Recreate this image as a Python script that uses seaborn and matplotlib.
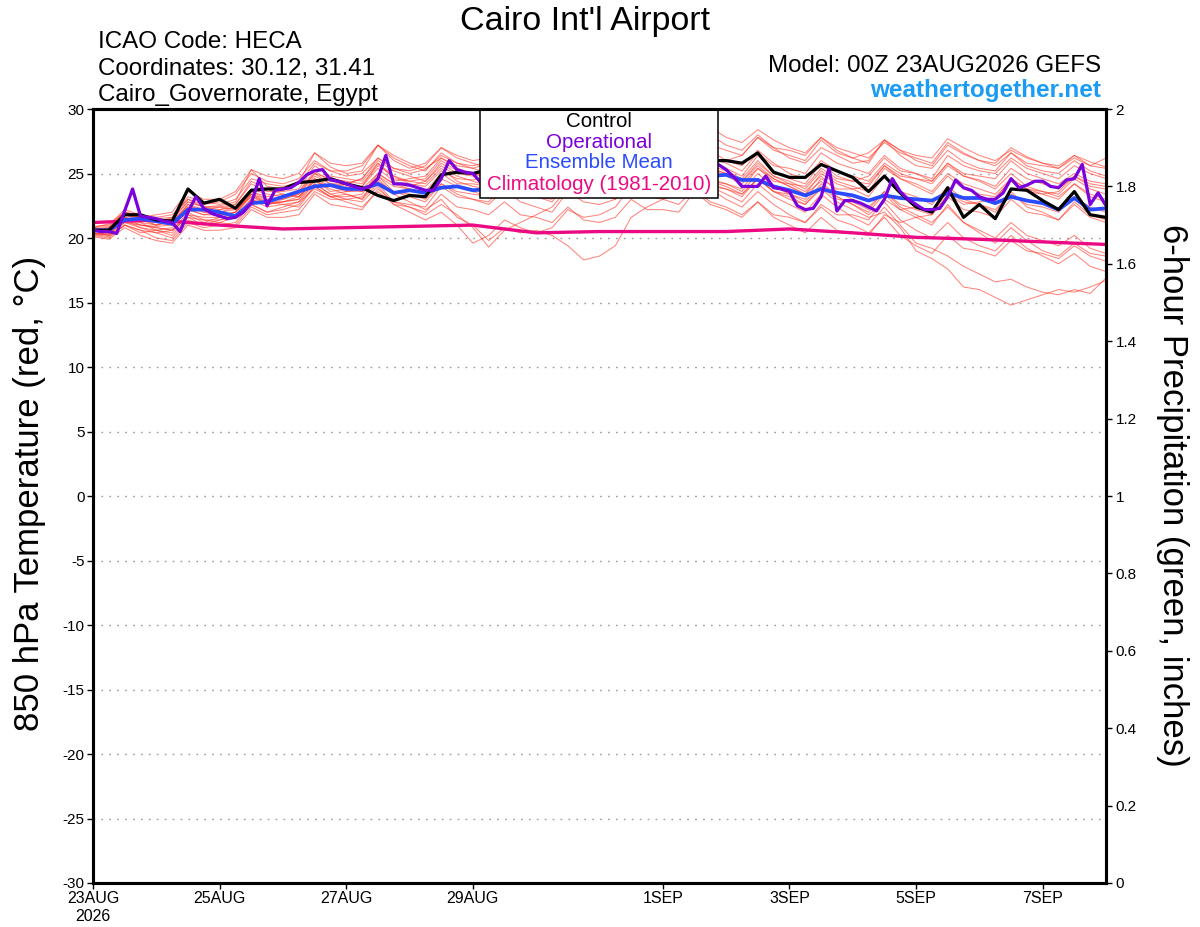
import numpy as np
import pandas as pd
import matplotlib
matplotlib.use("Agg")
import matplotlib.pyplot as plt
import matplotlib.dates as mdates
from matplotlib.patches import Rectangle
import seaborn as sns

# ---------------- data ----------------
start = pd.Timestamp("2026-08-23 00:00")
times_6h = pd.date_range(start, periods=65, freq="6h")
times_3h = pd.date_range(start, periods=129, freq="3h")
times_day = pd.date_range(start, periods=17, freq="1D")

control = [20.6, 20.6, 21.8, 21.8, 21.4, 21.3, 23.8, 22.7, 23.0, 22.3, 23.7, 23.8, 23.8,
           24.3, 24.4, 24.6, 24.2, 23.9, 23.3, 22.9, 23.3, 23.2, 24.9, 25.1, 25.0,
           25.3, 25.6, 25.9, 25.5, 25.8, 26.2, 26.0, 25.7, 26.3, 26.5, 26.2, 25.9, 26.1, 26.4, 26.0,
           26.0, 25.8, 26.6, 25.1, 24.7, 24.7, 25.7, 25.2, 24.7, 23.6, 24.8, 23.5, 22.4,
           22.0, 23.9, 21.6, 22.6, 21.5, 23.8, 23.7, 22.9, 22.2, 23.6, 21.8, 21.6]

ens_mean = [20.6, 20.6, 21.4, 21.5, 21.3, 21.1, 22.2, 22.2, 22.0, 21.7, 22.7, 22.8, 23.2,
            23.6, 24.0, 24.1, 23.8, 23.8, 24.2, 23.5, 23.7, 23.5, 23.9, 24.0, 23.7,
            23.8, 24.1, 23.9, 24.0, 24.3, 24.2, 24.4, 24.6, 24.4, 24.7, 24.8, 24.6, 24.8, 25.0, 24.8,
            24.9, 24.5, 24.5, 24.0, 23.7, 23.3, 23.8, 23.5, 23.3, 22.9, 23.3, 23.1, 23.0,
            22.9, 23.5, 23.1, 23.1, 22.7, 23.2, 22.9, 22.7, 22.2, 23.1, 22.2, 22.3]

operational = [20.6, 20.5, 20.5, 20.35, 22.1, 23.8, 21.7, 21.6, 21.5, 21.3, 21.2, 20.5, 22.0,
               23.2, 22.3, 21.9, 21.7, 21.5, 21.6, 22.0, 22.7, 24.6, 22.5, 23.7, 23.8, 23.9,
               24.3, 24.9, 25.2, 25.3, 24.5, 24.4, 24.2, 24.0, 23.8, 24.0, 24.6, 26.4, 24.2,
               24.2, 24.1, 23.9, 23.7, 23.7, 24.6, 26.0, 25.3, 25.1, 25.0,
               24.3, 24.5, 25.2, 25.5, 26.5, 25.4, 25.0, 24.8, 24.6, 24.8, 25.3, 25.6, 26.8,
               25.6, 25.3, 25.0, 24.9, 25.2, 25.6, 25.9, 27.0, 25.9, 25.6, 25.4, 25.2, 25.4,
               25.8, 26.0, 26.5, 26.0,
               25.7, 25.3, 24.7, 24.0, 24.0, 24.0, 24.8, 23.9, 23.8, 23.6, 22.5, 22.2, 22.3,
               23.2, 25.4, 22.1, 22.9, 22.9, 22.7, 22.4, 22.1, 23.0, 24.6, 23.6, 23.0, 22.6,
               22.2, 22.2, 22.3, 23.2, 24.5, 23.9, 23.7, 23.2, 23.0, 23.0, 23.5, 24.6, 23.9,
               24.1, 24.4, 24.4, 24.0, 23.9, 24.5, 24.6, 25.7, 22.6, 23.5, 22.5]

climatology = [21.2, 21.4, 21.0, 20.7, 20.8, 20.9, 21.0, 20.4, 20.5, 20.5, 20.5, 20.7,
               20.4, 20.05, 19.9, 19.7, 19.5]

members = [
    [20.8, 20.9, 22.0, 21.8, 21.5, 21.6, 23.2, 22.8, 22.6, 23.0, 24.6, 24.2, 24.0, 24.3, 26.6, 25.5,
     25.0, 25.2, 27.2, 26.0, 25.4, 25.8, 27.0, 26.4, 26.0, 26.2, 27.6, 27.0, 26.5, 26.8, 28.2, 27.6,
     27.0, 27.3, 28.5, 27.9, 27.3, 27.0, 28.8, 28.0, 27.2, 26.8, 28.0, 27.0, 26.2, 25.8, 27.0, 26.4,
     25.8, 26.0, 27.6, 26.8, 26.0, 25.6, 27.2, 26.5, 26.0, 25.8, 27.0, 26.3, 25.8, 25.6, 26.4, 25.9, 25.5],
    [20.5, 20.7, 21.6, 21.4, 21.2, 21.5, 22.8, 22.4, 22.5, 22.8, 25.3, 24.0, 23.8, 24.2, 25.8, 25.2,
     24.8, 25.0, 26.2, 25.4, 25.0, 25.3, 26.4, 25.8, 25.6, 25.9, 27.4, 26.8, 26.4, 26.6, 28.0, 27.5,
     27.4, 27.8, 29.0, 28.4, 28.0, 28.2, 29.3, 28.6, 27.8, 27.4, 28.4, 27.6, 27.0, 26.6, 27.8, 26.8,
     26.2, 25.8, 27.6, 26.4, 25.6, 25.4, 26.8, 25.9, 25.4, 25.2, 26.6, 25.6, 25.2, 25.0, 26.0, 25.2, 24.8],
    [20.6, 20.4, 21.8, 21.5, 21.0, 21.2, 22.6, 22.2, 22.0, 22.4, 23.8, 23.4, 23.2, 23.6, 25.0, 24.6,
     24.4, 24.2, 25.6, 24.8, 24.2, 24.0, 25.2, 24.6, 24.5, 24.8, 26.0, 25.4, 25.2, 25.4, 26.8, 26.0,
     25.8, 26.2, 27.4, 26.6, 26.4, 26.0, 27.6, 26.8, 26.0, 25.6, 26.8, 25.8, 25.0, 24.6, 26.0, 25.2,
     24.8, 24.4, 25.8, 25.0, 24.6, 24.2, 25.6, 24.8, 24.5, 24.0, 25.4, 24.6, 24.2, 23.8, 24.8, 24.2, 24.0],
    [20.4, 20.2, 21.2, 21.0, 20.8, 20.6, 22.0, 21.4, 21.2, 21.6, 23.0, 22.6, 22.8, 23.2, 24.4, 24.0,
     23.6, 23.8, 25.0, 24.2, 23.8, 23.4, 24.6, 24.0, 23.6, 23.2, 24.4, 23.6, 23.2, 23.0, 24.6, 23.8,
     23.6, 23.8, 25.2, 24.6, 24.4, 24.0, 25.4, 24.4, 24.0, 23.4, 24.6, 23.6, 23.0, 22.6, 23.8, 22.8,
     22.2, 21.6, 22.0, 20.8, 19.0, 18.4, 17.6, 16.2, 16.0, 15.4, 14.8, 15.2, 15.6, 16.0, 15.8, 16.2, 16.7],
    [20.2, 20.0, 21.0, 20.6, 20.0, 19.8, 21.2, 20.8, 21.0, 21.2, 22.6, 22.0, 22.2, 22.6, 24.0, 23.2,
     23.4, 23.0, 24.8, 23.6, 23.2, 22.8, 24.2, 23.4, 23.0, 22.6, 23.8, 22.8, 22.4, 22.0, 23.6, 22.8,
     22.6, 23.0, 24.6, 23.8, 23.8, 23.4, 25.0, 24.0, 23.4, 22.8, 24.2, 23.2, 22.6, 22.0, 23.4, 22.4,
     21.6, 21.0, 22.4, 21.0, 19.6, 19.2, 18.6, 17.8, 17.2, 16.6, 16.8, 16.2, 15.8, 15.6, 16.0, 15.7, 16.9],
    [20.5, 20.6, 21.4, 21.2, 20.6, 20.2, 21.6, 21.0, 21.4, 21.8, 23.4, 22.6, 23.0, 23.4, 24.8, 24.2,
     24.0, 23.6, 24.6, 23.4, 22.8, 22.2, 23.0, 21.6, 21.0, 19.8, 20.8, 20.4, 20.6, 20.2, 19.4, 18.3,
     18.6, 19.4, 21.6, 22.4, 23.0, 23.4, 25.2, 24.4, 24.2, 23.8, 25.4, 24.6, 24.0, 23.4, 25.0, 24.2,
     23.8, 23.2, 24.8, 23.6, 23.2, 22.6, 24.0, 23.0, 22.6, 22.0, 23.6, 22.4, 22.0, 21.4, 22.8, 21.8, 21.4],
    [20.7, 20.5, 21.6, 21.2, 21.0, 21.4, 22.4, 22.0, 22.2, 22.4, 23.6, 23.2, 23.4, 23.2, 24.4, 23.8,
     23.4, 23.0, 24.2, 22.8, 22.4, 21.8, 22.6, 21.8, 20.8, 19.3, 20.6, 21.2, 21.8, 22.4, 23.8, 23.2,
     23.6, 24.0, 25.6, 25.0, 25.0, 24.6, 26.2, 25.4, 25.0, 24.4, 25.8, 24.8, 24.4, 23.8, 25.2, 24.4,
     24.0, 23.6, 25.4, 24.6, 24.2, 23.6, 25.0, 24.2, 23.8, 23.4, 24.6, 23.8, 23.4, 23.0, 24.2, 23.4, 23.0],
    [20.9, 21.0, 22.2, 21.8, 21.6, 21.8, 23.0, 22.6, 22.8, 23.4, 25.0, 24.4, 24.2, 24.6, 26.0, 25.2,
     25.2, 25.6, 27.2, 26.2, 25.6, 25.2, 26.6, 25.8, 25.4, 25.0, 26.4, 25.6, 25.8, 26.2, 27.6, 27.0,
     26.8, 27.2, 28.4, 27.6, 27.0, 26.6, 27.8, 27.2, 26.8, 26.4, 27.8, 26.8, 26.4, 26.0, 27.6, 26.6,
     26.2, 26.6, 27.6, 26.8, 26.4, 26.2, 27.7, 27.0, 26.4, 26.0, 26.8, 26.2, 25.8, 25.4, 26.2, 25.6, 25.4],
    [20.3, 20.1, 21.0, 20.6, 20.4, 20.0, 21.4, 21.0, 21.2, 21.0, 22.4, 21.8, 22.0, 22.2, 23.6, 23.0,
     23.0, 23.2, 24.4, 23.6, 23.4, 23.0, 24.2, 23.6, 23.4, 23.2, 24.6, 23.8, 23.8, 23.6, 24.8, 24.0,
     24.2, 24.4, 25.6, 24.8, 24.6, 24.2, 25.6, 24.6, 24.2, 23.6, 25.0, 24.0, 23.4, 22.8, 24.2, 23.2,
     22.6, 22.0, 23.4, 22.2, 21.6, 21.0, 22.6, 21.2, 20.4, 19.6, 20.8, 19.8, 19.0, 18.6, 19.6, 18.8, 18.6],
    [20.6, 20.8, 21.8, 21.6, 21.4, 21.2, 22.4, 22.2, 22.4, 22.6, 24.2, 23.6, 23.6, 23.8, 25.6, 24.8,
     24.6, 24.4, 25.8, 24.8, 24.4, 24.6, 26.0, 25.2, 25.0, 25.4, 26.8, 26.0, 25.6, 25.2, 26.4, 25.6,
     25.2, 25.6, 27.0, 26.2, 25.8, 25.4, 27.0, 26.0, 25.4, 24.8, 26.4, 25.2, 24.6, 24.2, 25.8, 24.8,
     24.4, 24.8, 26.2, 25.2, 25.0, 24.6, 26.4, 25.6, 25.2, 25.0, 26.2, 25.4, 25.0, 24.6, 25.6, 25.0, 24.6],
    [20.1, 19.9, 20.8, 20.2, 19.8, 19.6, 21.0, 20.6, 20.6, 20.8, 22.2, 21.6, 21.6, 21.8, 23.4, 22.6,
     22.4, 22.2, 23.8, 22.8, 22.6, 22.4, 24.0, 23.2, 23.0, 22.8, 24.2, 23.4, 23.2, 22.8, 24.2, 23.4,
     23.4, 23.6, 25.0, 24.0, 23.8, 23.4, 24.8, 23.8, 23.0, 22.4, 23.6, 22.6, 21.8, 21.2, 22.4, 21.4,
     21.0, 20.4, 21.6, 20.2, 19.4, 18.8, 20.2, 19.2, 19.0, 18.6, 19.8, 19.0, 18.8, 18.4, 19.4, 18.6, 18.2],
    [20.8, 21.1, 22.0, 21.6, 21.8, 22.0, 23.6, 23.0, 23.0, 23.6, 25.3, 24.8, 24.6, 25.0, 26.6, 25.8,
     25.6, 25.8, 27.2, 26.4, 25.8, 25.4, 26.2, 25.4, 25.0, 24.6, 25.8, 25.0, 24.6, 24.2, 25.6, 24.8,
     24.4, 24.8, 26.4, 25.6, 25.4, 25.0, 26.6, 25.6, 25.2, 24.6, 26.0, 24.8, 24.2, 23.6, 24.8, 23.6,
     23.0, 22.4, 23.6, 22.6, 22.2, 21.8, 23.2, 22.2, 22.0, 21.6, 23.0, 22.0, 21.8, 21.4, 22.6, 21.6, 21.2],
    [20.4, 20.3, 21.4, 21.0, 20.9, 21.0, 22.6, 22.0, 21.8, 22.0, 23.4, 22.8, 22.6, 22.4, 24.0, 23.2,
     23.2, 23.4, 25.0, 24.2, 24.0, 24.4, 25.8, 25.0, 24.8, 25.2, 26.6, 25.8, 25.4, 25.0, 26.2, 25.2,
     24.6, 24.2, 25.4, 24.4, 24.0, 23.6, 25.2, 24.2, 23.8, 23.2, 24.6, 23.6, 23.4, 23.0, 24.6, 23.8,
     23.8, 24.0, 25.6, 24.8, 24.6, 24.4, 25.8, 25.0, 24.8, 24.6, 26.0, 25.0, 24.6, 24.2, 25.0, 24.4, 24.2],
    [20.6, 20.4, 21.2, 20.8, 20.6, 20.4, 21.8, 21.2, 21.6, 21.8, 23.0, 22.4, 22.6, 22.8, 24.2, 23.4,
     23.6, 23.6, 24.8, 24.0, 23.8, 23.6, 25.0, 24.2, 24.2, 24.0, 25.2, 24.4, 24.2, 24.4, 25.8, 25.0,
     25.0, 25.2, 26.6, 25.8, 25.6, 25.2, 26.4, 25.4, 25.0, 24.4, 25.6, 24.6, 24.0, 23.4, 24.4, 23.2,
     22.6, 21.8, 22.8, 21.4, 20.6, 20.0, 21.2, 20.0, 19.4, 19.0, 20.2, 19.2, 18.6, 18.0, 18.8, 17.8, 17.4],
    [20.7, 20.8, 22.0, 21.6, 21.2, 21.6, 23.0, 22.4, 22.4, 22.2, 23.4, 23.0, 23.0, 23.4, 25.0, 24.2,
     24.2, 24.0, 25.8, 24.6, 24.4, 24.2, 25.4, 24.4, 24.0, 23.8, 25.0, 24.4, 24.6, 24.8, 26.4, 25.6,
     25.6, 25.8, 27.2, 26.4, 26.2, 25.8, 27.2, 26.2, 25.8, 25.2, 26.6, 25.6, 25.4, 25.0, 26.6, 25.8,
     25.4, 25.0, 26.4, 25.4, 25.0, 24.4, 25.8, 24.8, 24.4, 23.8, 25.0, 24.0, 23.6, 23.2, 24.2, 23.2, 22.8],
    [20.5, 20.6, 21.4, 21.4, 21.2, 21.0, 22.2, 21.8, 21.8, 22.0, 23.6, 23.0, 23.2, 23.6, 25.2, 24.4,
     24.2, 24.6, 26.0, 25.2, 24.8, 24.4, 25.6, 24.8, 24.4, 24.0, 25.0, 24.0, 23.6, 23.2, 24.4, 23.6,
     23.4, 23.0, 24.2, 23.2, 23.0, 22.6, 23.8, 22.8, 22.4, 21.8, 22.8, 21.6, 21.0, 20.4, 21.6, 20.6,
     20.4, 20.2, 21.8, 21.2, 21.6, 21.8, 23.4, 22.6, 22.8, 23.0, 24.6, 23.8, 23.6, 23.4, 24.6, 23.8, 23.4],
    [20.3, 20.4, 21.6, 21.0, 20.8, 20.6, 21.8, 21.6, 21.6, 22.0, 23.2, 22.6, 22.8, 23.0, 24.6, 23.6,
     23.8, 24.0, 25.4, 24.4, 24.6, 24.8, 26.2, 25.6, 25.4, 25.8, 27.0, 26.4, 26.0, 26.4, 27.8, 27.0,
     26.4, 26.0, 27.2, 26.4, 25.6, 25.2, 26.4, 25.4, 24.8, 24.2, 25.4, 24.4, 24.2, 24.0, 25.4, 24.6,
     24.4, 24.2, 25.6, 24.6, 24.0, 23.4, 24.8, 23.8, 23.4, 23.2, 24.4, 23.6, 23.4, 23.6, 24.8, 24.0, 23.8],
    [20.8, 20.6, 21.8, 21.4, 21.0, 21.4, 22.8, 22.4, 22.2, 22.6, 24.4, 23.8, 23.4, 23.2, 24.6, 24.0,
     24.2, 24.6, 26.2, 25.4, 25.2, 25.6, 27.0, 26.2, 25.8, 25.4, 26.6, 25.6, 25.0, 24.6, 25.8, 24.8,
     24.4, 24.0, 25.6, 24.8, 24.8, 25.2, 26.8, 26.0, 26.0, 26.4, 27.8, 27.0, 26.8, 26.4, 27.8, 27.0,
     26.6, 26.2, 27.4, 26.6, 26.2, 25.8, 27.4, 26.6, 26.0, 25.6, 26.6, 25.8, 25.6, 25.4, 26.4, 25.6, 26.2],
    [20.2, 20.3, 21.4, 20.8, 20.4, 20.6, 21.6, 21.4, 21.4, 21.6, 22.6, 22.0, 22.4, 22.8, 23.8, 23.2,
     22.8, 22.4, 23.6, 22.6, 22.4, 22.0, 23.4, 22.4, 22.2, 21.8, 22.8, 21.8, 21.6, 21.2, 22.4, 21.4,
     21.2, 21.6, 23.0, 22.2, 22.2, 22.0, 23.6, 22.6, 22.2, 21.6, 22.8, 21.8, 21.6, 21.2, 22.6, 21.8,
     21.8, 21.4, 23.0, 22.2, 22.4, 22.0, 23.6, 22.8, 22.6, 22.2, 23.4, 22.6, 22.4, 22.0, 23.2, 22.4, 22.0],
    [20.4, 20.2, 21.0, 20.4, 20.6, 20.8, 22.2, 21.8, 22.0, 22.2, 23.2, 22.8, 22.8, 23.0, 24.2, 23.4,
     23.0, 22.8, 24.0, 22.6, 22.0, 21.4, 22.0, 21.0, 19.6, 20.2, 21.4, 20.8, 20.4, 20.8, 22.2, 21.6,
     21.8, 22.4, 24.0, 23.4, 23.6, 23.2, 24.8, 24.0, 23.8, 23.4, 24.6, 23.6, 23.2, 22.6, 24.0, 23.0,
     22.8, 22.2, 23.6, 22.4, 21.8, 21.2, 22.4, 21.2, 20.6, 20.0, 21.2, 20.2, 19.8, 19.4, 20.2, 19.2, 18.8],
]

ytick_vals = list(range(-30, 31, 5))
precip_ticks = [0, 0.2, 0.4, 0.6, 0.8, 1.0, 1.2, 1.4, 1.6, 1.8, 2.0]
xtick_dates = ["2026-08-23", "2026-08-25", "2026-08-27", "2026-08-29",
               "2026-09-01", "2026-09-03", "2026-09-05", "2026-09-07"]
xtick_labels = ["23AUG\n2026", "25AUG", "27AUG", "29AUG", "1SEP", "3SEP", "5SEP", "7SEP"]

# ---------------- styling ----------------
sns.set_theme(style="white")
plt.rcParams["font.family"] = ["Liberation Sans", "DejaVu Sans"]
plt.rcParams["text.color"] = "black"
plt.rcParams["axes.labelcolor"] = "black"
plt.rcParams["xtick.color"] = "black"
plt.rcParams["ytick.color"] = "black"
plt.rcParams["xtick.labelcolor"] = "black"
plt.rcParams["ytick.labelcolor"] = "black"

W, H = 1200, 927
fig = plt.figure(figsize=(12, 9.27), dpi=100)
ax = fig.add_axes([93 / W, 1 - 883 / H, (1106 - 93) / W, (883 - 109) / H])

rows = []
for k, vals in enumerate(members):
    for t, v in zip(times_6h, vals):
        rows.append((f"m{k+1:02d}", t, v))
df_members = pd.DataFrame(rows, columns=["member", "time", "temp"])

sns.lineplot(data=df_members, x="time", y="temp", units="member", estimator=None,
             color="#ff3526", alpha=0.6, linewidth=0.75, ax=ax, legend=False, zorder=2)

df_clim = pd.DataFrame({"time": times_day, "temp": climatology})
sns.lineplot(data=df_clim, x="time", y="temp", color="#ec0a84", linewidth=2.4, ax=ax, zorder=4)

df_mean = pd.DataFrame({"time": times_6h, "temp": ens_mean})
sns.lineplot(data=df_mean, x="time", y="temp", color="#2a4bff", linewidth=2.7, ax=ax, zorder=5)

df_ctl = pd.DataFrame({"time": times_6h, "temp": control})
sns.lineplot(data=df_ctl, x="time", y="temp", color="black", linewidth=2.3, ax=ax, zorder=6)

df_op = pd.DataFrame({"time": times_3h, "temp": operational})
sns.lineplot(data=df_op, x="time", y="temp", color="#7a00dc", linewidth=2.3, ax=ax, zorder=7)

ax.set_xlim(times_6h[0], times_6h[-1])
ax.set_ylim(-30, 30)
ax.set_yticks(ytick_vals)
ax.set_yticklabels([str(v) for v in ytick_vals])
ax.set_xticks(pd.to_datetime(xtick_dates))
ax.set_xticklabels(xtick_labels)
ax.set_xlabel("")
ax.set_ylabel("")
ax.yaxis.grid(True, linestyle=(0, (1.2, 4.5)), color="#9a9a9a", linewidth=1.0)
ax.xaxis.grid(False)
ax.set_axisbelow(True)
ax.tick_params(axis="both", direction="out", length=4, width=1, color="black",
               labelcolor="black", labelsize=11, pad=2, left=True, bottom=True)
ax.tick_params(axis="x", labelsize=11.5, pad=2)
for s in ax.spines.values():
    s.set_color("black")
    s.set_linewidth(2.2)

ax2 = ax.twinx()
ax2.set_ylim(0, 2)
ax2.set_yticks(precip_ticks)
ax2.set_yticklabels([f"{v:g}" for v in precip_ticks])
ax2.tick_params(axis="y", direction="out", length=4, width=1, color="black",
                labelcolor="black", labelsize=11, pad=3, right=True)
ax2.grid(False)
for s in ax2.spines.values():
    s.set_color("black")
    s.set_linewidth(2.2)

# legend box (manual, centered texts)
ax.add_patch(Rectangle((480 / W, 1 - 198 / H), 238 / W, 89 / H, transform=fig.transFigure,
                       facecolor="white", edgecolor="black", linewidth=1.1, zorder=20))
leg_items = [("Control", "black", 121), ("Operational", "#7a00dc", 142),
             ("Ensemble Mean", "#2a4bff", 163), ("Climatology (1981-2010)", "#ec0a84", 185)]
for txt, col, yy in leg_items:
    ax.text(599 / W, 1 - (yy + 5.5) / H, txt, color=col, fontsize=14.8, ha="center",
            va="baseline", transform=fig.transFigure, zorder=21)

# titles and labels
fig.text(585 / W, 1 - 30 / H, "Cairo Int'l Airport", fontsize=24.5, color="black",
         ha="center", va="baseline")
fig.text(98 / W, 1 - 48.5 / H, "ICAO Code: HECA", fontsize=17.4, color="black",
         ha="left", va="baseline")
fig.text(98 / W, 1 - 74.5 / H, "Coordinates: 30.12, 31.41", fontsize=17.4, color="black",
         ha="left", va="baseline")
fig.text(98 / W, 1 - 100.5 / H, "Cairo_Governorate, Egypt", fontsize=17.4, color="black",
         ha="left", va="baseline")
fig.text(1101 / W, 1 - 71.5 / H, "Model: 00Z 23AUG2026 GEFS", fontsize=17.4, color="black",
         ha="right", va="baseline")
fig.text(1101 / W, 1 - 97.5 / H, "weathertogether.net", fontsize=17.5, fontweight="bold",
         color="#1a9cf5", ha="right", va="baseline")
fig.text(30 / W, 1 - 493 / H, "850 hPa Temperature (red, °C)", fontsize=25, color="black",
         rotation=90, ha="center", va="center")
fig.text(1173 / W, 1 - 495 / H, "6-hour Precipitation (green, inches)", fontsize=25,
         color="black", rotation=270, ha="center", va="center")

fig.savefig("out.png", dpi=100, facecolor="white")
